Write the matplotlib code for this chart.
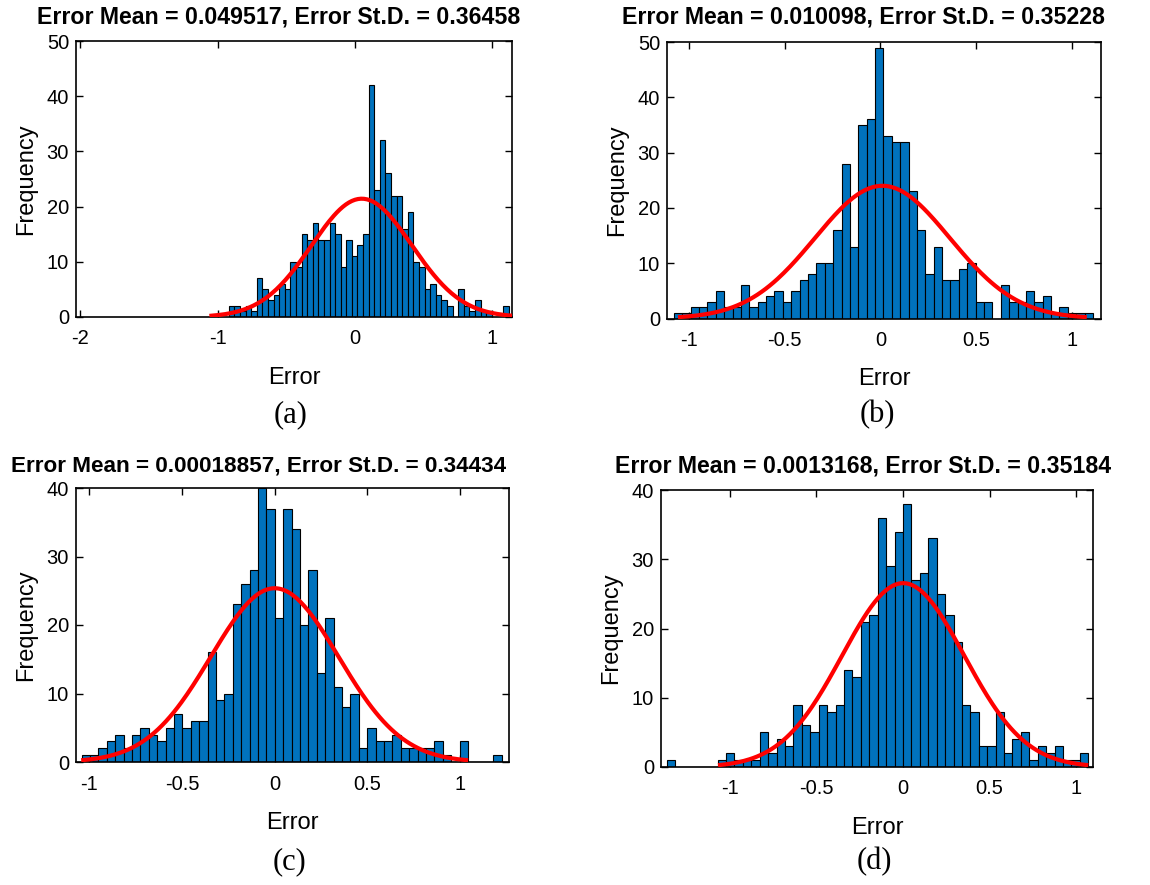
import numpy as np
import matplotlib
matplotlib.use("Agg")
import matplotlib.pyplot as plt

W, H = 1150, 885

# bar heights (50 bins each, left to right)
counts_a = [2, 2, 1, 2, 1, 7, 5, 3, 4, 6, 5, 10, 9, 15, 14, 17, 14, 14, 17, 15,
            9, 14, 11, 13, 15, 42, 23, 32, 26, 22, 22, 16, 19, 10, 9, 5, 6, 4, 3, 2,
            0, 5, 2, 1, 3, 1, 1, 0, 0, 2]
counts_b = [1, 1, 2, 2, 3, 5, 2, 2, 6, 2, 3, 4, 5, 3, 5, 7, 8, 10, 10, 16,
            28, 13, 35, 36, 49, 33, 32, 32, 23, 16, 8, 13, 7, 7, 9, 10, 3, 3, 0, 6,
            3, 3, 5, 3, 4, 1, 2, 1, 1, 1]
counts_c = [1, 1, 2, 3, 4, 2, 4, 5, 4, 3, 5, 7, 5, 6, 6, 16, 9, 10, 23, 26,
            28, 40, 37, 21, 37, 34, 20, 28, 13, 21, 11, 8, 10, 2, 5, 3, 3, 4, 2, 2,
            2, 2, 3, 1, 0, 3, 0, 0, 0, 1]
counts_d = [1, 0, 0, 0, 0, 0, 1, 2, 1, 1, 1, 5, 2, 4, 3, 9, 6, 5, 9, 8,
            9, 14, 13, 21, 22, 36, 29, 34, 38, 27, 28, 33, 25, 22, 18, 9, 8, 3, 3, 8,
            2, 4, 5, 1, 3, 2, 3, 1, 1, 2]

# outer bin edges of each histogram
range_a = (-0.918, 1.118)
range_b = (-1.079, 1.110)
range_c = (-1.0415, 1.225)
range_d = (-1.360, 1.069)

# error statistics from the titles
stats_a = (0.049517, 0.36458)
stats_b = (0.010098, 0.35228)
stats_c = (0.00018857, 0.34434)
stats_d = (0.0013168, 0.35184)

titles = [
    "Error Mean = 0.049517, Error St.D. = 0.36458",
    "Error Mean = 0.010098, Error St.D. = 0.35228",
    "Error Mean = 0.00018857, Error St.D. = 0.34434",
    "Error Mean = 0.0013168, Error St.D. = 0.35184",
]
tags = ["(a)", "(b)", "(c)", "(d)"]

xticks_a = [-2, -1, 0, 1]
xticks_bcd = [-1, -0.5, 0, 0.5, 1]
yticks_50 = [0, 10, 20, 30, 40, 50]
yticks_40 = [0, 10, 20, 30, 40]

plt.rcParams["font.family"] = ["Liberation Sans", "DejaVu Sans"]
plt.rcParams["axes.unicode_minus"] = False

fig = plt.figure(figsize=(W / 100, H / 100), dpi=100)


def px_axes(left, top, right, bottom):
    return fig.add_axes([left / W, 1 - bottom / H, (right - left) / W, (bottom - top) / H])


def fmt(v):
    return "%g" % v


def draw_panel(box, counts, rng, stats, xlim, ylim, xticks, yticks,
               title, title_xy, title_size, tag, tag_xy):
    ax = px_axes(*box)
    edges = np.linspace(rng[0], rng[1], len(counts) + 1)
    bw = edges[1] - edges[0]
    ax.bar(edges[:-1], counts, width=bw, align="edge", color="#0072BD",
           edgecolor="black", linewidth=0.8, zorder=2)

    # normal fit over mean +/- 3 sd, scaled to the histogram area
    mu, sd = stats
    x = np.linspace(mu - 3 * sd, mu + 3 * sd, 200)
    y = sum(counts) * bw * np.exp(-0.5 * ((x - mu) / sd) ** 2) / (sd * np.sqrt(2 * np.pi))
    ax.plot(x, y, color="red", linewidth=3, zorder=3)

    ax.set_xlim(*xlim)
    ax.set_ylim(*ylim)
    ax.set_xticks(xticks)
    ax.set_xticklabels([fmt(v) for v in xticks])
    ax.set_yticks(yticks)
    ax.set_yticklabels([fmt(v) for v in yticks])
    ax.tick_params(direction="in", top=True, right=True, length=5, width=1,
                   labelsize=14.5, colors="black")
    ax.tick_params(axis="x", pad=9)
    ax.tick_params(axis="y", pad=5)
    for s in ax.spines.values():
        s.set_linewidth(1.2)
    ax.set_xlabel("Error", fontsize=17, labelpad=13)
    ax.set_ylabel("Frequency", fontsize=17, labelpad=7)

    fig.text(title_xy[0] / W, 1 - title_xy[1] / H, title, fontsize=title_size,
             fontweight="bold", ha="center", va="center")
    fig.text(tag_xy[0] / W, 1 - tag_xy[1] / H, tag, fontsize=22,
             family="Liberation Serif", ha="center", va="center")
    return ax


draw_panel((76, 41, 512, 317), counts_a, range_a, stats_a, (-2.03, 1.143), (0, 50),
           xticks_a, yticks_50, titles[0], (279, 17), 16.7, tags[0], (291, 415))
draw_panel((667, 42, 1101, 318.5), counts_b, range_b, stats_b, (-1.115, 1.152), (0, 50),
           xticks_bcd, yticks_50, titles[1], (863, 17), 16.7, tags[1], (877, 415))
draw_panel((76, 488, 509, 762), counts_c, range_c, stats_c, (-1.072, 1.265), (0, 40),
           xticks_bcd, yticks_40, titles[2], (259, 466), 16.2, tags[2], (290, 862))
draw_panel((661, 490, 1093, 767), counts_d, range_d, stats_d, (-1.395, 1.096), (0, 40),
           xticks_bcd, yticks_40, titles[3], (863, 466), 16.7, tags[3], (874, 862))

fig.savefig("out.png", dpi=100)
